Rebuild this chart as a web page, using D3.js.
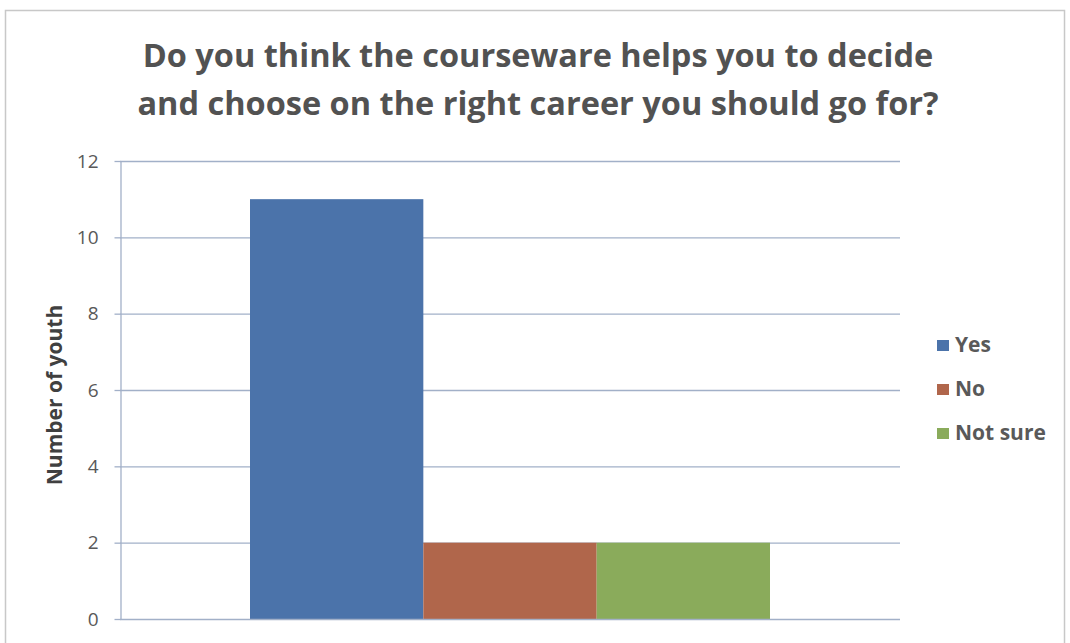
<!DOCTYPE html>
<html>
<head>
<meta charset="utf-8">
<script src="https://cdn.jsdelivr.net/npm/d3@7"></script>
<style>
  html, body { margin: 0; padding: 0; background: #fff; }
  svg { display: block; }
  text { font-family: "Open Sans", Lato, sans-serif; }
</style>
</head>
<body>
<svg id="chart" width="1070" height="643"></svg>
<script>
// Survey answers: one category, three response series
const categories = ["Responses"];
const seriesNames = ["Yes", "No", "Not sure"];
const seriesValues = [11, 2, 2];
const seriesColors = ["#4b73aa", "#b0664b", "#8aab5b"];
const yTicks = [0, 2, 4, 6, 8, 10, 12];
const titleLines = [
  "Do you think the courseware helps you to decide",
  "and choose on the right career you should go for?"
];
const yAxisTitle = "Number of youth";

const svg = d3.select("#chart");

// Outer chart frame
svg.append("rect")
  .attr("x", 5.5).attr("y", 10.5)
  .attr("width", 1059).attr("height", 640)
  .attr("fill", "#fff").attr("stroke", "#c8c8c8").attr("stroke-width", 1.5);

const plot = { left: 120, right: 900, top: 161, bottom: 619 };

const y = d3.scaleLinear().domain([0, 12]).range([plot.bottom, plot.top]);
const x0 = d3.scaleBand().domain(categories).range([plot.left, plot.right]).paddingInner(0).paddingOuter(0);
// Bars of the group fill the band apart from a 150% gap width around them
const groupInner = 3 / (3 + 1.5);
const x1 = d3.scaleBand().domain(seriesNames)
  .range([x0(categories[0]) + x0.bandwidth() * (1 - groupInner) / 2,
          x0(categories[0]) + x0.bandwidth() * (1 + groupInner) / 2])
  .padding(0);

const gridColor = "#a2b0c8";

// Gridlines
svg.append("g")
  .selectAll("line")
  .data(yTicks.filter(d => d > 0))
  .join("line")
  .attr("x1", plot.left).attr("x2", plot.right)
  .attr("y1", d => y(d) + 0.5).attr("y2", d => y(d) + 0.5)
  .attr("stroke", gridColor).attr("stroke-width", 1.3);

// Bars
svg.append("g")
  .selectAll("rect")
  .data(seriesNames.map((s, i) => ({ s, v: seriesValues[i], c: seriesColors[i] })))
  .join("rect")
  .attr("x", d => x1(d.s))
  .attr("width", x1.bandwidth())
  .attr("y", d => y(d.v))
  .attr("height", d => y(0) - y(d.v))
  .attr("fill", d => d.c);

// Y axis
const yAxis = svg.append("g")
  .attr("transform", `translate(${plot.left + 0.5},0)`)
  .call(d3.axisLeft(y).tickValues(yTicks).tickSize(6).tickPadding(16).tickSizeOuter(0));
yAxis.attr("font-size", 19).attr("font-family", "'Open Sans', sans-serif");
yAxis.select(".domain").attr("stroke", gridColor).attr("stroke-width", 1.3);
yAxis.selectAll(".tick line").attr("stroke", gridColor).attr("stroke-width", 1.3);
yAxis.selectAll(".tick text").attr("fill", "#595959");

// X axis baseline
svg.append("line")
  .attr("x1", plot.left).attr("x2", plot.right)
  .attr("y1", plot.bottom + 0.5).attr("y2", plot.bottom + 0.5)
  .attr("stroke", gridColor).attr("stroke-width", 1.3);

// Y axis title
svg.append("text")
  .attr("transform", `translate(62,${(plot.top + plot.bottom) / 2 + 5}) rotate(-90)`)
  .attr("text-anchor", "middle")
  .attr("font-size", 21).attr("font-weight", "bold")
  .attr("fill", "#404040")
  .text(yAxisTitle);

// Chart title
svg.append("g")
  .selectAll("text")
  .data(titleLines)
  .join("text")
  .attr("x", 538)
  .attr("y", (d, i) => 67 + i * 48)
  .attr("text-anchor", "middle")
  .attr("font-size", 32.5).attr("font-weight", "bold")
  .attr("fill", "#525252")
  .text(d => d);

// Legend
const legend = svg.append("g")
  .selectAll("g")
  .data(seriesNames.map((s, i) => ({ s, c: seriesColors[i] })))
  .join("g")
  .attr("transform", (d, i) => `translate(937,${352 + i * 44})`);
legend.append("rect")
  .attr("x", 0).attr("y", -12).attr("width", 12).attr("height", 11)
  .attr("fill", d => d.c);
legend.append("text")
  .attr("x", 18).attr("y", 0)
  .attr("font-size", 21).attr("font-weight", "bold")
  .attr("fill", "#595959")
  .text(d => d.s);
</script>
</body>
</html>
